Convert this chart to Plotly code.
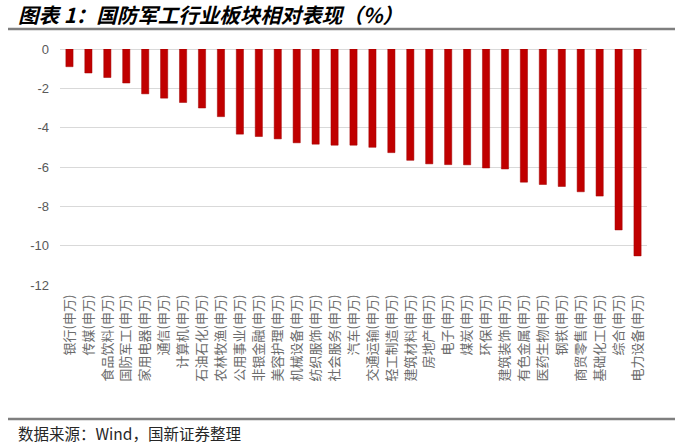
import plotly.graph_objects as go

categories = ["银行(申万)", "传媒(申万)", "食品饮料(申万)", "国防军工(申万)", "家用电器(申万)",
              "通信(申万)", "计算机(申万)", "石油石化(申万)", "农林牧渔(申万)", "公用事业(申万)",
              "非银金融(申万)", "美容护理(申万)", "机械设备(申万)", "纺织服饰(申万)", "社会服务(申万)",
              "汽车(申万)", "交通运输(申万)", "轻工制造(申万)", "建筑材料(申万)", "房地产(申万)",
              "电子(申万)", "煤炭(申万)", "环保(申万)", "建筑装饰(申万)", "有色金属(申万)",
              "医药生物(申万)", "钢铁(申万)", "商贸零售(申万)", "基础化工(申万)", "综合(申万)",
              "电力设备(申万)"]
values = [-0.90, -1.22, -1.45, -1.73, -2.28, -2.50, -2.72, -3.00, -3.44, -4.33,
          -4.45, -4.57, -4.77, -4.84, -4.89, -4.89, -5.00, -5.27, -5.66, -5.84,
          -5.88, -5.89, -6.05, -6.10, -6.77, -6.89, -6.99, -7.26, -7.48, -9.20,
          -10.52]
y_ticks = [0, -2, -4, -6, -8, -10, -12]

W, H = 681, 446
L, R, T, B = 60, 647, 49, 285

def px(x):
    return (x - L) / (R - L)

def py(y):
    return (B - y) / (B - T)

fig = go.Figure(go.Bar(
    x=categories, y=values,
    marker=dict(color="#C00000", line=dict(color="#A00000", width=0.5)),
    width=0.38,
))

font_cjk = "Noto Sans CJK SC, Microsoft YaHei, sans-serif"

fig.update_layout(
    width=W, height=H,
    margin=dict(l=L, r=W - R, t=T, b=H - B, pad=0),
    paper_bgcolor="white", plot_bgcolor="white",
    showlegend=False,
    font=dict(family=font_cjk, color="#595959", size=13),
    xaxis=dict(tickangle=-90, tickfont=dict(size=13, color="#6B6B6B", family=font_cjk),
               showgrid=False, showline=False, ticks="", ticklen=0, range=[-0.5, 30.5],
               ticklabelstandoff=6),
    yaxis=dict(range=[-12, 0], tickvals=y_ticks, ticktext=[str(v) for v in y_ticks],
               showgrid=True, gridcolor="#D9D9D9", gridwidth=1,
               zeroline=True, zerolinecolor="#D9D9D9", zerolinewidth=1,
               tickfont=dict(size=13, color="#595959", family="Liberation Sans, Arial, sans-serif"),
               ticks="", ticklabelstandoff=10),
    annotations=[
        dict(text="<b><i>图表 1：国防军工行业板块相对表现（%）</i></b>", xref="paper", yref="paper",
             x=px(16), y=py(14), xanchor="left", yanchor="middle", showarrow=False,
             font=dict(size=20.5, color="#000000", family=font_cjk)),
        dict(text="数据来源：Wind，国新证券整理", xref="paper", yref="paper",
             x=px(16), y=py(433), xanchor="left", yanchor="middle", showarrow=False,
             font=dict(size=15.5, color="#262626", family=font_cjk)),
    ],
)

for yy in (29, 419):
    fig.add_shape(type="line", xref="paper", yref="paper", layer="above",
                  x0=px(8), x1=px(675), y0=py(yy), y1=py(yy),
                  line=dict(color="#7F7F7F", width=2.5))

fig.write_html("out.html", config={"displayModeBar": False},
               post_script="document.body.style.margin='0';document.body.style.overflow='hidden';")
